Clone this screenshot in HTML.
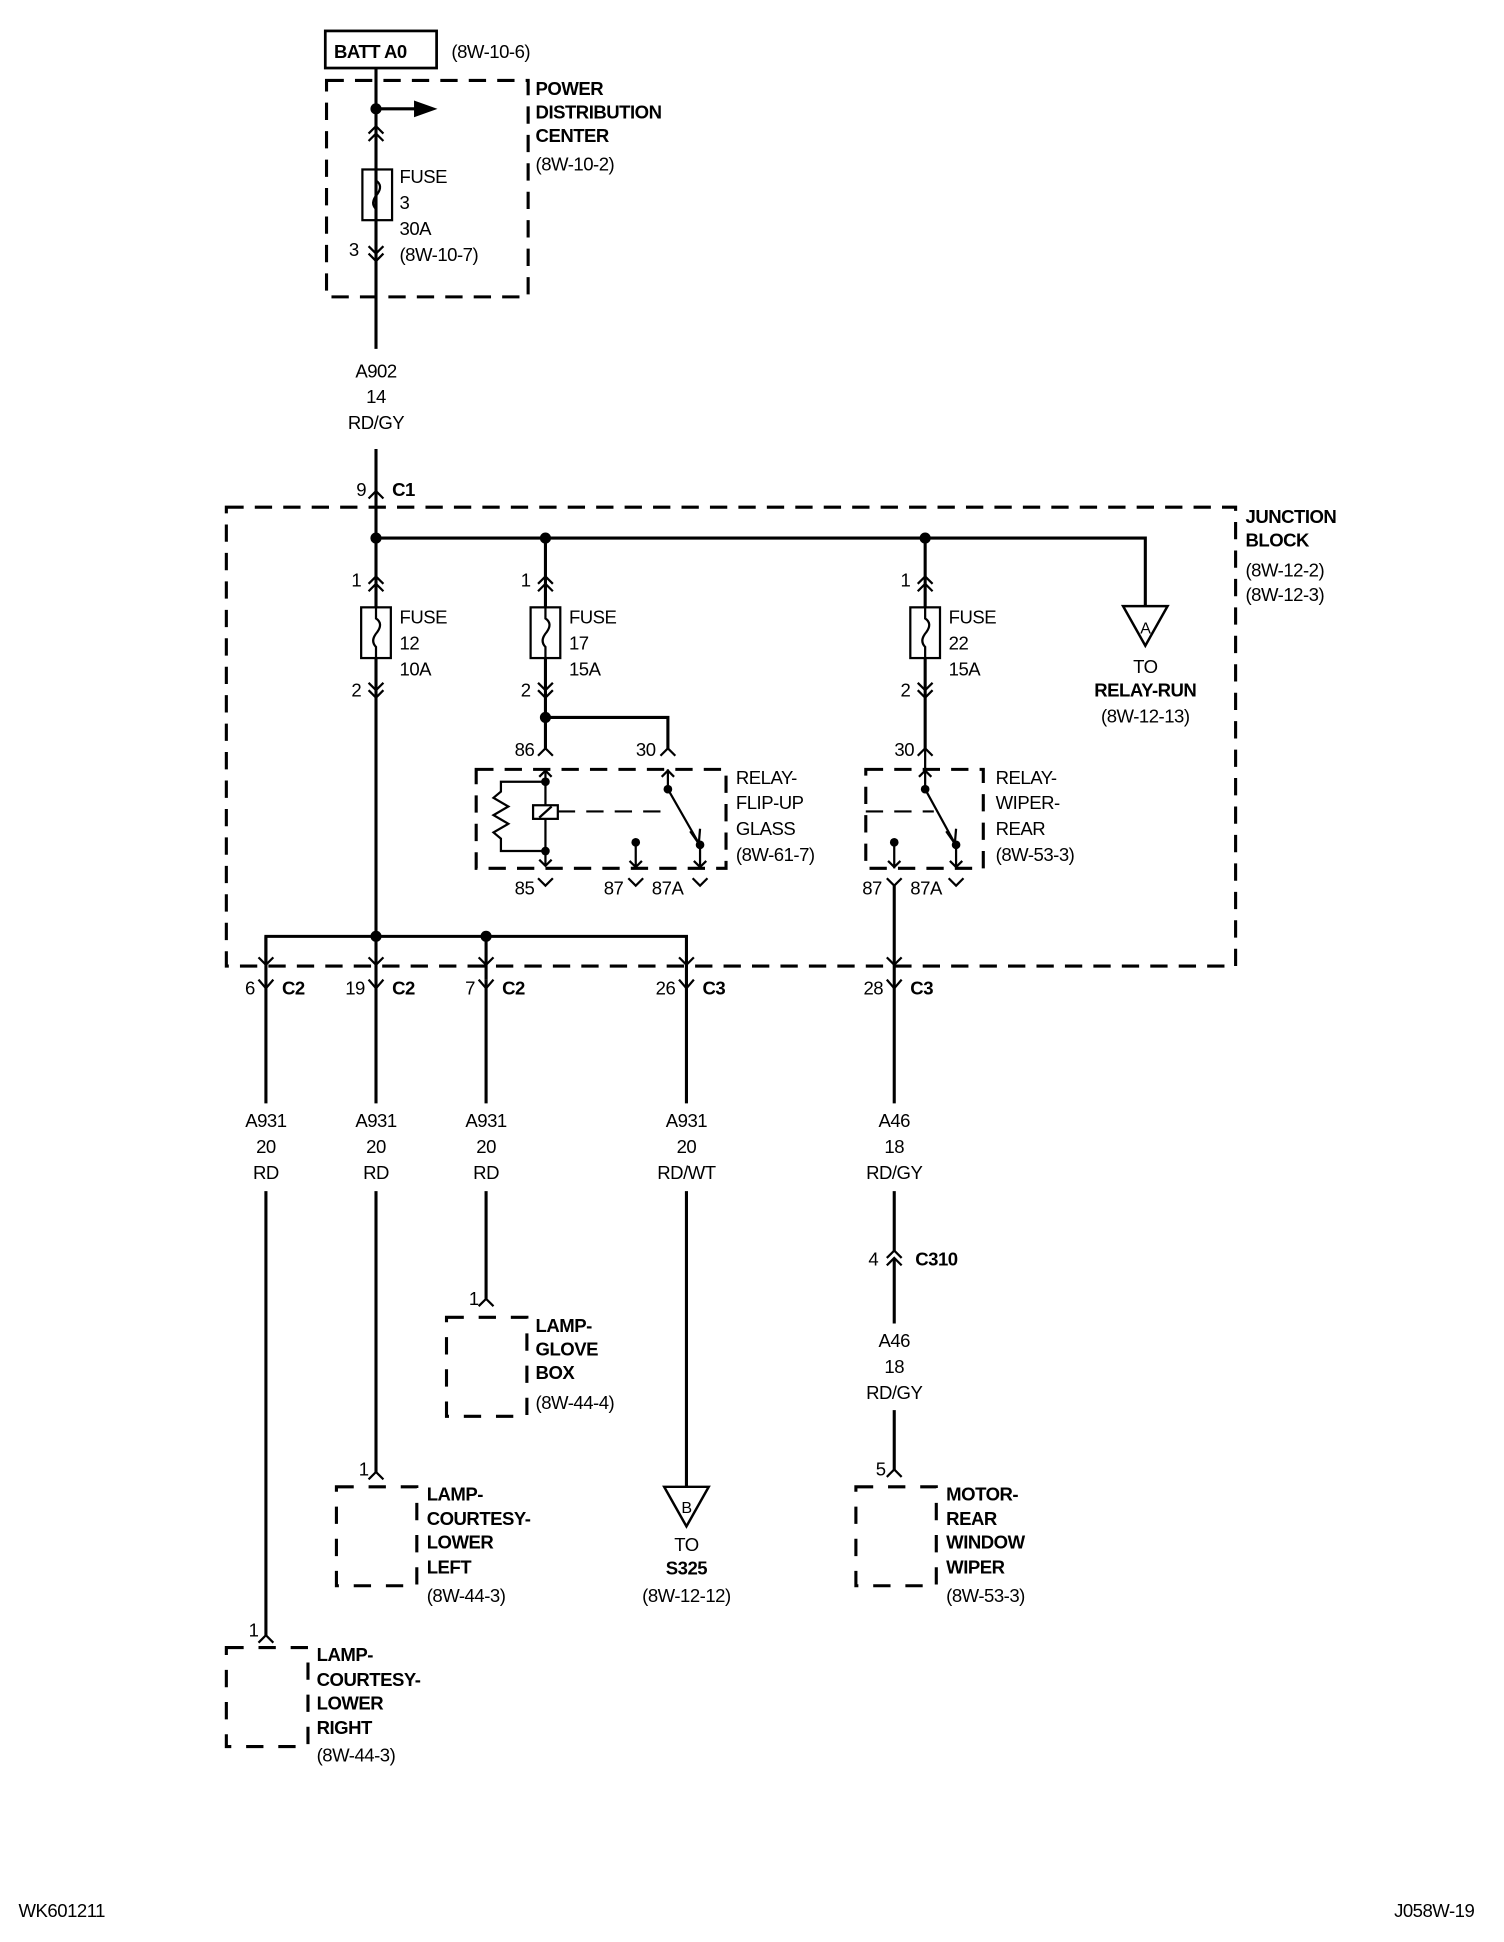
<!DOCTYPE html>
<html><head><meta charset="utf-8"><style>
html,body{margin:0;padding:0;background:#fff}
svg{display:block}
text{font-family:"Liberation Sans Narrow","Liberation Sans",Arial,sans-serif;font-size:15px;fill:#000;letter-spacing:-0.4px}
.b{font-weight:bold}
.m{text-anchor:middle}
.e{text-anchor:end}
</style></head><body>
<svg width="1504" height="1942" viewBox="0 0 1216 1570" preserveAspectRatio="none" xmlns="http://www.w3.org/2000/svg">
<g fill="none" stroke="#000" stroke-width="2.5">
<rect x="263" y="25" width="90" height="30" stroke-width="2.2"/>
<rect x="264" y="65" width="163" height="175" stroke-dasharray="14,9"/>
<line x1="304" y1="55" x2="304" y2="282"/>
<line x1="304" y1="363" x2="304" y2="397"/>
<line x1="304" y1="88" x2="338" y2="88"/>
<path d="M336,83 L350,88 L336,93Z" fill="#000"/>
<path d="M298,108 L304,102 L310,108 M298,114 L304,108 L310,114" stroke-width="1.8"/>
<rect x="293" y="137" width="24" height="41" stroke-width="1.8"/>
<path d="M304,137 L304,146 Q310,150 305,157 Q299,164 304,169 L304,178" stroke-width="1.8"/>
<path d="M298,199 L304,205 L310,199 M298,205 L304,211 L310,205" stroke-width="1.8"/>
<path d="M298,403 L304,397 L310,403" stroke-width="1.8"/>
<rect x="183" y="410" width="816" height="371" stroke-dasharray="14,9"/>
<path d="M304,397 L304,757"/>
<path d="M304,435 L926,435 L926,490"/>
<path d="M908,490 L944,490 L926,522Z" stroke-width="2"/>
<path d="M441,435 L441,605"/>
<path d="M748,435 L748,605"/>
<g stroke-width="1.8">
<path d="M298,472 L304,466 L310,472 M298,478 L304,472 L310,478"/>
<path d="M435,472 L441,466 L447,472 M435,478 L441,472 L447,478"/>
<path d="M742,472 L748,466 L754,472 M742,478 L748,472 L754,478"/>
<rect x="292" y="491" width="24" height="41" fill="#fff"/>
<rect x="429" y="491" width="24" height="41" fill="#fff"/>
<rect x="736" y="491" width="24" height="41" fill="#fff"/>
<path d="M304,491 L304,500 Q310,504 305,511 Q299,518 304,523 L304,532"/>
<path d="M441,491 L441,500 Q447,504 442,511 Q436,518 441,523 L441,532"/>
<path d="M748,491 L748,500 Q754,504 749,511 Q743,518 748,523 L748,532"/>
<path d="M298,552 L304,558 L310,552 M298,558 L304,564 L310,558"/>
<path d="M435,552 L441,558 L447,552 M435,558 L441,564 L447,558"/>
<path d="M742,552 L748,558 L754,552 M742,558 L748,564 L754,558"/>
</g>
<path d="M441,580 L540,580 L540,605"/>
<g stroke-width="1.8">
<path d="M435,611 L441,605 L447,611"/>
<path d="M534,611 L540,605 L546,611"/>
<path d="M742,611 L748,605 L754,611"/>
</g>
<rect x="385" y="622" width="202" height="80" stroke-dasharray="14,9"/>
<g stroke-width="1.8">
<path d="M441,622 L441,700"/>
<path d="M436,628 L441,623 L446,628"/>
<path d="M436,695 L441,700 L446,695"/>
<path d="M441,632 L405,632 L405,640 L399,645 L411,652 L399,659 L411,666 L399,673 L405,678 L405,688 L441,688"/>
<rect x="431" y="651" width="20" height="11" fill="#fff"/>
<path d="M436,661 L446,652"/>
<path d="M451,656 L540,656" stroke-dasharray="14,9"/>
<path d="M540,622 L540,638 L564,680 M566,683 L566,702"/>
<path d="M535,628 L540,623 L545,628"/>
<path d="M558,672 L565,682 L566,670"/>
<path d="M514,681 L514,702 M509,696 L514,701 L519,696"/>
<path d="M561,696 L566,701 L571,696"/>
<path d="M435,710 L441,716 L447,710"/>
<path d="M508,710 L514,716 L520,710"/>
<path d="M560,710 L566,716 L572,710"/>
</g>
<rect x="700" y="622" width="95" height="80" stroke-dasharray="14,9"/>
<g stroke-width="1.8">
<path d="M748,605 L748,638 L771,680 M773,683 L773,702"/>
<path d="M743,628 L748,623 L753,628"/>
<path d="M765,672 L772,682 L773,670"/>
<path d="M700,656 L755,656" stroke-dasharray="14,9"/>
<path d="M723,681 L723,702 M718,696 L723,701 L728,696"/>
<path d="M768,696 L773,701 L778,696"/>
<path d="M717,710 L723,716 L729,710"/>
<path d="M767,710 L773,716 L779,710"/>
</g>
<path d="M215,780 L215,757 L555,757 L555,780"/>
<path d="M393,757 L393,792"/>
<g stroke-width="1.8">
<path d="M209,774 L215,780 L221,774"/>
<path d="M298,774 L304,780 L310,774"/>
<path d="M387,774 L393,780 L399,774"/>
<path d="M549,774 L555,780 L561,774"/>
<path d="M717,774 L723,780 L729,774"/>
<path d="M209,792 L215,799 L221,792"/>
<path d="M298,792 L304,799 L310,792"/>
<path d="M387,792 L393,799 L399,792"/>
<path d="M549,792 L555,799 L561,792"/>
<path d="M717,792 L723,799 L729,792"/>
</g>
<path d="M215,757 L215,892 M215,963 L215,1322"/>
<path d="M304,757 L304,892 M304,963 L304,1190"/>
<path d="M393,792 L393,892 M393,963 L393,1050"/>
<path d="M555,780 L555,892 M555,963 L555,1202"/>
<path d="M723,716 L723,892 M723,963 L723,1011"/>
<path d="M723,1017 L723,1070 M723,1140 L723,1188"/>
<path d="M537,1202 L573,1202 L555,1234Z" stroke-width="2"/>
<g stroke-width="1.8">
<path d="M717,1017 L723,1011 L729,1017 M717,1023 L723,1017 L729,1023"/>
<path d="M387,1056 L393,1050 L399,1056"/>
<path d="M298,1196 L304,1190 L310,1196"/>
<path d="M717,1194 L723,1188 L729,1194"/>
<path d="M209,1328 L215,1322 L221,1328"/>
</g>
<rect x="361" y="1065" width="65" height="80" stroke-dasharray="14,12"/>
<rect x="272" y="1202" width="65" height="80" stroke-dasharray="14,12"/>
<rect x="692" y="1202" width="65" height="80" stroke-dasharray="14,12"/>
<rect x="183" y="1332" width="66" height="80" stroke-dasharray="14,12"/>
</g>
<g fill="#000">
<circle cx="304" cy="88" r="4.5"/>
<circle cx="304" cy="435" r="4.5"/><circle cx="441" cy="435" r="4.5"/><circle cx="748" cy="435" r="4.5"/>
<circle cx="441" cy="580" r="4.5"/>
<circle cx="304" cy="757" r="4.5"/><circle cx="393" cy="757" r="4.5"/>
<circle cx="441" cy="632" r="3.5"/><circle cx="441" cy="688" r="3.5"/>
<circle cx="540" cy="638" r="3.5"/><circle cx="566" cy="683" r="3.5"/><circle cx="514" cy="681" r="3.5"/>
<circle cx="748" cy="638" r="3.5"/><circle cx="773" cy="683" r="3.5"/><circle cx="723" cy="681" r="3.5"/>
</g>
<text x="270" y="47" class="b">BATT A0</text>
<text x="365" y="47">(8W-10-6)</text>
<text x="433" y="77" class="b">POWER</text>
<text x="433" y="96" class="b">DISTRIBUTION</text>
<text x="433" y="115" class="b">CENTER</text>
<text x="433" y="138">(8W-10-2)</text>
<text x="323" y="148">FUSE</text><text x="323" y="169">3</text><text x="323" y="190">30A</text><text x="323" y="211">(8W-10-7)</text>
<text x="290" y="207" class="e">3</text>
<text x="304" y="305" class="m">A902</text><text x="304" y="326" class="m">14</text><text x="304" y="347" class="m">RD/GY</text>
<text x="296" y="401" class="e">9</text><text x="317" y="401" class="b">C1</text>
<text x="1007" y="423" class="b">JUNCTION</text><text x="1007" y="442" class="b">BLOCK</text>
<text x="1007" y="466">(8W-12-2)</text><text x="1007" y="486">(8W-12-3)</text>
<text x="926" y="512" class="m" style="font-size:13px">A</text>
<text x="926" y="544" class="m">TO</text><text x="926" y="563" class="m b">RELAY-RUN</text><text x="926" y="584" class="m">(8W-12-13)</text>
<text x="292" y="474" class="e">1</text><text x="429" y="474" class="e">1</text><text x="736" y="474" class="e">1</text>
<text x="323" y="504">FUSE</text><text x="323" y="525">12</text><text x="323" y="546">10A</text>
<text x="460" y="504">FUSE</text><text x="460" y="525">17</text><text x="460" y="546">15A</text>
<text x="767" y="504">FUSE</text><text x="767" y="525">22</text><text x="767" y="546">15A</text>
<text x="292" y="563" class="e">2</text><text x="429" y="563" class="e">2</text><text x="736" y="563" class="e">2</text>
<text x="432" y="611" class="e">86</text><text x="530" y="611" class="e">30</text><text x="739" y="611" class="e">30</text>
<text x="595" y="634">RELAY-</text><text x="595" y="654">FLIP-UP</text><text x="595" y="675">GLASS</text><text x="595" y="696">(8W-61-7)</text>
<text x="805" y="634">RELAY-</text><text x="805" y="654">WIPER-</text><text x="805" y="675">REAR</text><text x="805" y="696">(8W-53-3)</text>
<text x="432" y="723" class="e">85</text><text x="504" y="723" class="e">87</text><text x="527" y="723">87A</text>
<text x="713" y="723" class="e">87</text><text x="736" y="723">87A</text>
<text x="206" y="804" class="e">6</text><text x="228" y="804" class="b">C2</text>
<text x="295" y="804" class="e">19</text><text x="317" y="804" class="b">C2</text>
<text x="384" y="804" class="e">7</text><text x="406" y="804" class="b">C2</text>
<text x="546" y="804" class="e">26</text><text x="568" y="804" class="b">C3</text>
<text x="714" y="804" class="e">28</text><text x="736" y="804" class="b">C3</text>
<text x="215" y="911" class="m">A931</text><text x="215" y="932" class="m">20</text><text x="215" y="953" class="m">RD</text>
<text x="304" y="911" class="m">A931</text><text x="304" y="932" class="m">20</text><text x="304" y="953" class="m">RD</text>
<text x="393" y="911" class="m">A931</text><text x="393" y="932" class="m">20</text><text x="393" y="953" class="m">RD</text>
<text x="555" y="911" class="m">A931</text><text x="555" y="932" class="m">20</text><text x="555" y="953" class="m">RD/WT</text>
<text x="723" y="911" class="m">A46</text><text x="723" y="932" class="m">18</text><text x="723" y="953" class="m">RD/GY</text>
<text x="710" y="1023" class="e">4</text><text x="740" y="1023" class="b">C310</text>
<text x="723" y="1089" class="m">A46</text><text x="723" y="1110" class="m">18</text><text x="723" y="1131" class="m">RD/GY</text>
<text x="387" y="1055" class="e">1</text>
<text x="433" y="1077" class="b">LAMP-</text><text x="433" y="1096" class="b">GLOVE</text><text x="433" y="1115" class="b">BOX</text><text x="433" y="1139">(8W-44-4)</text>
<text x="298" y="1193" class="e">1</text>
<text x="345" y="1213" class="b">LAMP-</text><text x="345" y="1233" class="b">COURTESY-</text><text x="345" y="1252" class="b">LOWER</text><text x="345" y="1272" class="b">LEFT</text><text x="345" y="1295">(8W-44-3)</text>
<text x="555" y="1223" class="m" style="font-size:13px">B</text>
<text x="555" y="1254" class="m">TO</text><text x="555" y="1273" class="m b">S325</text><text x="555" y="1295" class="m">(8W-12-12)</text>
<text x="716" y="1193" class="e">5</text>
<text x="765" y="1213" class="b">MOTOR-</text><text x="765" y="1233" class="b">REAR</text><text x="765" y="1252" class="b">WINDOW</text><text x="765" y="1272" class="b">WIPER</text><text x="765" y="1295">(8W-53-3)</text>
<text x="209" y="1323" class="e">1</text>
<text x="256" y="1343" class="b">LAMP-</text><text x="256" y="1363" class="b">COURTESY-</text><text x="256" y="1382" class="b">LOWER</text><text x="256" y="1402" class="b">RIGHT</text><text x="256" y="1424">(8W-44-3)</text>
<text x="15" y="1550">WK601211</text>
<text x="1192" y="1550" class="e">J058W-19</text>
</svg>
</body></html>
